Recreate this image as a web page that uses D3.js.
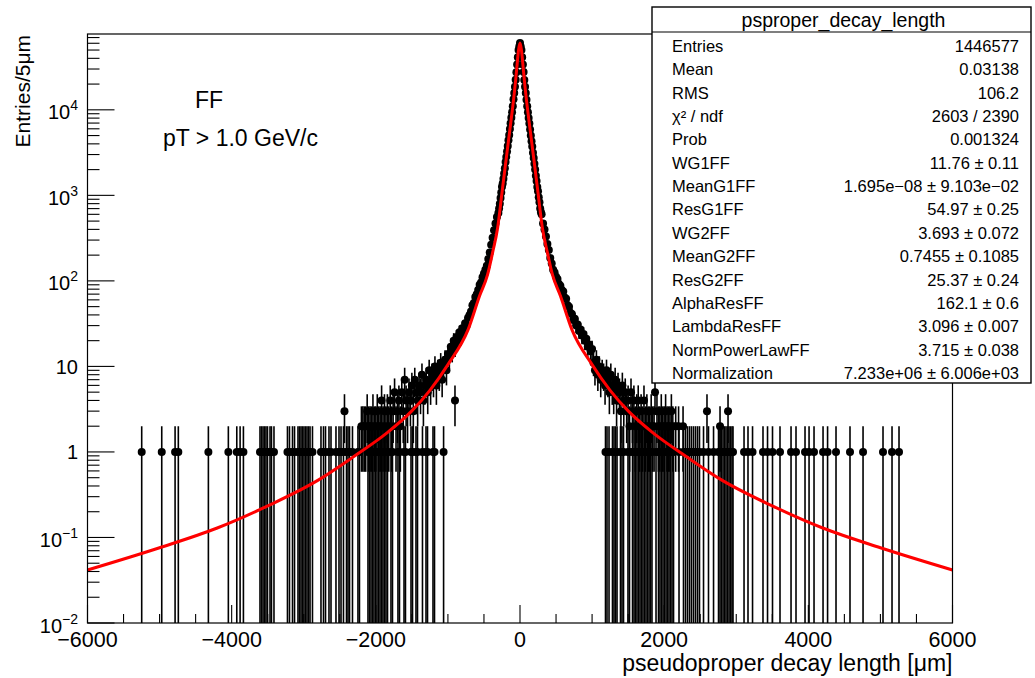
<!DOCTYPE html>
<html><head><meta charset="utf-8">
<script src="https://cdn.jsdelivr.net/npm/d3@7"></script>
<style>
body{margin:0;background:#fff}
svg{display:block}
text{font-family:"Liberation Sans",Arial,Helvetica,sans-serif;fill:#000}
</style>
</head><body>
<svg id="c" width="1035" height="678"></svg>
<script>
// ---------------- data ----------------
const xMajorTicks = [-6000,-4000,-2000,0,2000,4000,6000];
const xTickLabels = ["\u22126000","\u22124000","\u22122000","0","2000","4000","6000"];
const yDecades = [0.01,0.1,1,10,100,1000,10000];
const yTickBase = ["10","10","1","10","10","10","10"];
const yTickExp  = ["\u22122","\u22121","","","2","3","4"];

// fitted function (red)
const fitX = [-6000,-5000,-4200,-3500,-2800,-2300,-1850,-1500,-1250,-1000,-720,-560,-450,-380,-310,-250,-200,-140,-100,-60,-40,-20,0,
              20,40,60,100,140,200,250,310,380,450,560,720,1000,1250,1500,1850,2300,2800,3500,4200,5000,6000];
const fitY = [0.0417,0.0759,0.129,0.234,0.468,0.891,1.66,3.02,5.25,10.5,26.9,67,118,214,417,1072,2344,5888,10965,22387,33884,50119,60256,
              50119,33884,22387,10965,5888,2344,1072,417,214,118,67,26.9,10.5,5.25,3.02,1.66,0.891,0.468,0.234,0.129,0.0759,0.0417];

// core bins (µm, entries)
const coreX = [-1000,-980,-960,-940,-920,-900,-880,-860,-840,-820,-800,-780,-760,-740,-720,-700,-680,-660,-640,-620,-600,-580,-560,-540,-520,-500,-480,-460,-440,-420,-400,-380,-360,-340,-320,
  -300,-290,-280,-270,-260,-250,-240,-230,-220,-210,-200,-190,-180,-170,-160,-150,-140,-130,-120,-110,-100,-90,-80,-70,-60,-50,-40,-30,-20,-10,0,
  10,20,30,40,50,60,70,80,90,100,110,120,130,140,150,160,170,180,190,200,210,220,230,240,250,260,270,280,290,300,
  320,340,360,380,400,420,440,460,480,500,520,540,560,580,600,620,640,660,680,700,720,740,760,780,800,820,840,860,880,900,920,940,960,980,1000];
const coreY = [14,13,17,15,20,17,22,20,25,22,28,26,32,30,37,40,44,52,55,65,70,78,90,96,110,122,135,150,180,215,265,320,390,470,560,
  620,700,800,930,1080,1260,1380,1560,1800,2080,2450,2800,3250,3780,4400,5080,5950,6950,8100,9380,11000,13250,15700,18650,22450,27550,33950,41250,50150,55000,60300,
  54900,50200,41100,33800,27600,22300,18650,15700,13150,10980,9340,8020,6930,5880,5020,4300,3730,3150,2730,2340,2000,1690,1470,1255,1120,950,830,700,640,600,
  470,400,330,270,230,185,160,135,125,112,105,92,88,78,75,64,62,52,50,42,41,35,36,30,31,26,27,23,24,20,21,17,18,15,16];

// tail bins with 2 or more entries (µm, entries)
const tailMultiX = [-2435,
  -2200,-2180,-2160,-2140,-2120,-2100,-2080,-2060,-2040,-2020,-2000,-1980,-1960,-1940,-1920,-1900,-1880,-1860,-1840,-1820,
  -1800,-1780,-1760,-1740,-1720,-1700,-1680,-1660,-1640,-1620,-1600,-1580,-1560,-1540,-1520,-1500,-1480,-1460,-1440,-1420,
  -1400,-1380,-1360,-1340,-1320,-1300,-1280,-1260,-1240,-1220,-1200,-1180,-1160,-1140,-1120,-1100,-1080,-1060,-1040,-1020,-902,
  1020,1040,1060,1080,1100,1120,1140,1160,1180,1200,1220,1240,1260,1280,1300,1320,1340,1360,1380,1400,
  1420,1440,1460,1480,1500,1520,1540,1560,1580,1600,1620,1640,1660,1680,1700,1720,1740,1760,1780,1800,
  1820,1840,1860,1873,1900,1920,1940,1960,1980,2000,2020,2040,2060,2080,2100,2120,2160,2200,2262,2594,2775,2886];
const tailMultiY = [3,
  2,2,2,2,3,2,2,2,3,2,2,3,2,2,4,2,3,2,3,2,
  4,2,3,5,2,3,4,2,5,3,7,4,3,5,4,6,3,7,5,4,
  6,5,8,4,6,7,5,9,6,8,7,10,6,9,8,11,7,10,12,9,4,
  11,9,12,8,10,7,9,8,6,9,7,5,8,6,5,7,4,6,5,3,
  6,4,5,3,4,2,5,3,4,2,3,4,2,3,2,4,2,3,2,2,
  3,2,2,5,3,2,2,3,2,2,3,2,2,2,3,2,2,2,2,3,2,3];

// tail bins with exactly one entry (µm)
const tailOnes = [-5248,-4970,-4785,-4740,-4323,-4046,-3929,-3883,-3837,
  -3607,-3586,-3565,-3545,-3524,-3503,-3468,-3448,-3413,-3226,-3198,-3156,-3128,
  -3080,-3059,-3038,-3018,-2997,-2976,-2955,-2934,-2913,-2879,-2761,-2726,-2698,-2650,-2622,-2553,-2511,-2483,-2449,-2407,-2386,-2365,-2324,-2248,-2227,
  -2109,-2088,-2067,-2046,-2026,-2005,-1984,-1963,-1942,-1921,-1901,-1880,-1859,-1838,
  -1790,-1769,-1693,-1672,-1609,-1589,-1512,-1491,-1443,-1422,-1353,-1304,-1283,-1207,-1186,-1060,
  1186,1207,1235,1283,1304,1325,1346,1394,1415,1436,1498,1519,
  1561,1582,1602,1623,1644,1665,1686,1706,1727,1748,1769,1790,1810,1831,
  1887,1921,1942,1963,1984,2005,2026,2046,2067,2088,2109,2130,
  2206,2268,2296,2324,2352,2379,2407,2435,2463,2490,2546,2615,2685,
  2754,2775,2796,2817,2838,2858,2879,2900,2920,2941,
  2955,3108,3163,3226,3371,3434,3503,3607,3760,3829,3954,4010,4079,4204,4267,4384,4578,4759,5036,5161,5258];

const statsTitle = "psproper_decay_length";
const statsLabels = ["Entries","Mean","RMS","\u03c7\u00b2 / ndf","Prob","WG1FF","MeanG1FF","ResG1FF","WG2FF","MeanG2FF","ResG2FF","AlphaResFF","LambdaResFF","NormPowerLawFF","Normalization"];
const statsValues = ["1446577","0.03138","106.2","2603 / 2390","0.001324","11.76 \u00b1 0.11","1.695e\u221208 \u00b1 9.103e\u221202","54.97 \u00b1 0.25","3.693 \u00b1 0.072","0.7455 \u00b1 0.1085","25.37 \u00b1 0.24","162.1 \u00b1 0.6","3.096 \u00b1 0.007","3.715 \u00b1 0.038","7.233e+06 \u00b1 6.006e+03"];

// ---------------- drawing ----------------
const svg = d3.select("#c");
const L = 87.5, R = 952.5, T = 34, B = 623;
const x = d3.scaleLinear().domain([-6000, 6000]).range([L, R]);
const y = d3.scaleLog().domain([0.01, 7.7e4]).range([B, T]);

svg.append("defs").append("clipPath").attr("id","fr")
  .append("rect").attr("x",L).attr("y",T).attr("width",R-L).attr("height",B-T);

const bins = [];
coreX.forEach((v,i)=>bins.push([v, coreY[i]]));
tailMultiX.forEach((v,i)=>bins.push([v, tailMultiY[i]]));
tailOnes.forEach(v=>bins.push([v, 1]));

const g = svg.append("g").attr("clip-path","url(#fr)");
g.selectAll("line.err").data(bins).enter().append("line")
  .attr("x1",d=>x(d[0])).attr("x2",d=>x(d[0]))
  .attr("y1",d=>y(d[1]+Math.sqrt(d[1])))
  .attr("y2",d=>{const lo=d[1]-Math.sqrt(d[1]); return lo>0.01 ? y(lo) : B+2;})
  .attr("stroke","#000").attr("stroke-width",1.6);
g.selectAll("circle").data(bins).enter().append("circle")
  .attr("cx",d=>x(d[0])).attr("cy",d=>y(d[1])).attr("r",4).attr("fill","#000");

const fit = fitX.map((v,i)=>[v, fitY[i]]);
g.append("path").datum(fit)
  .attr("d", d3.line().x(d=>x(d[0])).y(d=>y(d[1])).curve(d3.curveMonotoneX))
  .attr("fill","none").attr("stroke","#ff0000").attr("stroke-width",3);

// frame
svg.append("rect").attr("x",L).attr("y",T).attr("width",R-L).attr("height",B-T)
  .attr("fill","none").attr("stroke","#000").attr("stroke-width",1.2);

// x ticks
const xMinor = d3.range(-6000, 6001, 500).filter(v=>!xMajorTicks.includes(v));
svg.selectAll("line.xmin").data(xMinor).enter().append("line")
  .attr("x1",d=>x(d)).attr("x2",d=>x(d)).attr("y1",B).attr("y2",B-9)
  .attr("stroke","#000").attr("stroke-width",1.1);
svg.selectAll("line.xmaj").data(xMajorTicks).enter().append("line")
  .attr("x1",d=>x(d)).attr("x2",d=>x(d)).attr("y1",B).attr("y2",B-18)
  .attr("stroke","#000").attr("stroke-width",1.1);
svg.selectAll("text.xl").data(xMajorTicks).enter().append("text")
  .attr("x",d=>x(d)).attr("y",647).attr("text-anchor","middle")
  .attr("font-size",21.5).text((d,i)=>xTickLabels[i]);

// y ticks
const yMinor = [];
yDecades.forEach(dv=>{ for(let k=2;k<=9;k++){ const v=dv*k; if(v<7.7e4) yMinor.push(v);} });
svg.selectAll("line.ymin").data(yMinor).enter().append("line")
  .attr("x1",L).attr("x2",L+12).attr("y1",d=>y(d)).attr("y2",d=>y(d))
  .attr("stroke","#000").attr("stroke-width",1.1);
svg.selectAll("line.ymaj").data(yDecades).enter().append("line")
  .attr("x1",L).attr("x2",L+27).attr("y1",d=>y(d)).attr("y2",d=>y(d))
  .attr("stroke","#000").attr("stroke-width",1.1);
yDecades.forEach((dv,i)=>{
  const t = svg.append("text").attr("x",78).attr("text-anchor","end").attr("font-size",20);
  if (yTickExp[i]) {
    t.attr("y", y(dv)+9.5);
    t.append("tspan").text(yTickBase[i]);
    t.append("tspan").attr("font-size",14).attr("dy",-9).text(yTickExp[i]);
  } else {
    t.attr("y", y(dv)+7.5).text(yTickBase[i]);
  }
});

// axis titles
svg.append("text").attr("x",R).attr("y",671).attr("text-anchor","end").attr("font-size",23)
  .text("pseudoproper decay length [\u03bcm]");
svg.append("text").attr("transform","translate(30,35) rotate(-90)").attr("text-anchor","end").attr("font-size",21)
  .text("Entries/5\u03bcm");

// annotations
svg.append("text").attr("x",195).attr("y",108).attr("font-size",23).text("FF");
svg.append("text").attr("x",163).attr("y",146).attr("font-size",23).text("pT > 1.0 GeV/c");

// stats box
const SX = 652, SY = 7, SW = 379, SH = 376;
svg.append("rect").attr("x",SX).attr("y",SY).attr("width",SW).attr("height",SH)
  .attr("fill","#fff").attr("stroke","#000").attr("stroke-width",1.4);
svg.append("line").attr("x1",SX).attr("x2",SX+SW).attr("y1",32).attr("y2",32)
  .attr("stroke","#000").attr("stroke-width",1.1);
svg.append("text").attr("x",SX+SW/2+2).attr("y",27).attr("text-anchor","middle").attr("font-size",19.5).text(statsTitle);
statsLabels.forEach((lab,i)=>{
  const by = 52 + 23.35*i;
  svg.append("text").attr("x",672).attr("y",by).attr("font-size",16.5).text(lab);
  svg.append("text").attr("x",1019).attr("y",by).attr("text-anchor","end").attr("font-size",16.5).text(statsValues[i]);
});
</script>
</body></html>
